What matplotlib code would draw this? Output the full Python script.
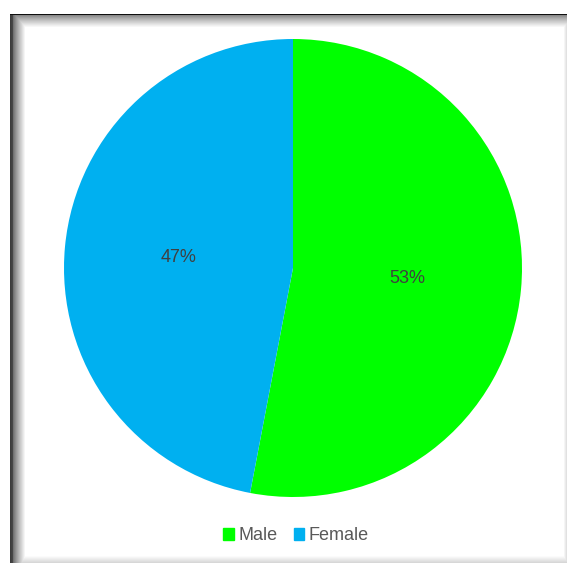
import matplotlib.pyplot as plt
import numpy as np
from matplotlib.patches import Rectangle

# data
labels = ['Male', 'Female']
shares = [53, 47]
colors = ['#00FF00', '#00B0F0']

W, H = 567, 563
fig = plt.figure(figsize=(W / 100, H / 100), dpi=100)
plt.rcParams['font.family'] = ['Liberation Sans', 'DejaVu Sans']

# frame with inner shadow (background image)
bg = np.ones((H, W)) * 255.0
# left band
for i in range(16):
    v = 60 + (255 - 60) * (i / 15) ** 0.8 if i > 2 else 60 + i * 5
    bg[14:, 10 + i] = np.minimum(bg[14:, 10 + i], v)
# top band
for i in range(14):
    v = 15 if i == 0 else 120 + (255 - 120) * (i / 13) ** 0.8
    bg[14 + i, 10:] = np.minimum(bg[14 + i, 10:], v)
# faint right and bottom edges
for i in range(3):
    bg[14:, W - 1 - i] = np.minimum(bg[14:, W - 1 - i], 225 + i * 10)
for i in range(7):
    bg[H - 1 - i, 10:] = np.minimum(bg[H - 1 - i, 10:], 215 + i * 6)
bg[:14, :] = 255
bg[:, :10] = 255

bax = fig.add_axes([0, 0, 1, 1])
bax.imshow(bg, cmap='gray', vmin=0, vmax=255, aspect='auto', interpolation='nearest')
bax.axis('off')

# pie
ax = fig.add_axes([64 / W, 1 - 497 / H, 458 / W, 458 / H])
wedges, texts, autotexts = ax.pie(
    shares, colors=colors, startangle=90, counterclock=False,
    autopct=lambda p: '{:.0f}%'.format(p), pctdistance=0.5, radius=1.0,
    textprops={'fontsize': 13, 'color': '#404040'})
ax.set_xlim(-1, 1)
ax.set_ylim(-1, 1)
ax.set_aspect('auto')
ax.axis('off')

# legend
handles = [Rectangle((0, 0), 1, 1, color=c) for c in colors]
leg = fig.legend(handles, labels, loc='center', bbox_to_anchor=(296 / W, 1 - 536 / H),
                 ncol=2, frameon=False, fontsize=13, handlelength=0.6,
                 handleheight=0.6, handletextpad=0.25, columnspacing=0.9)
for t in leg.get_texts():
    t.set_color('#595959')

plt.savefig('out.png', dpi=100)
